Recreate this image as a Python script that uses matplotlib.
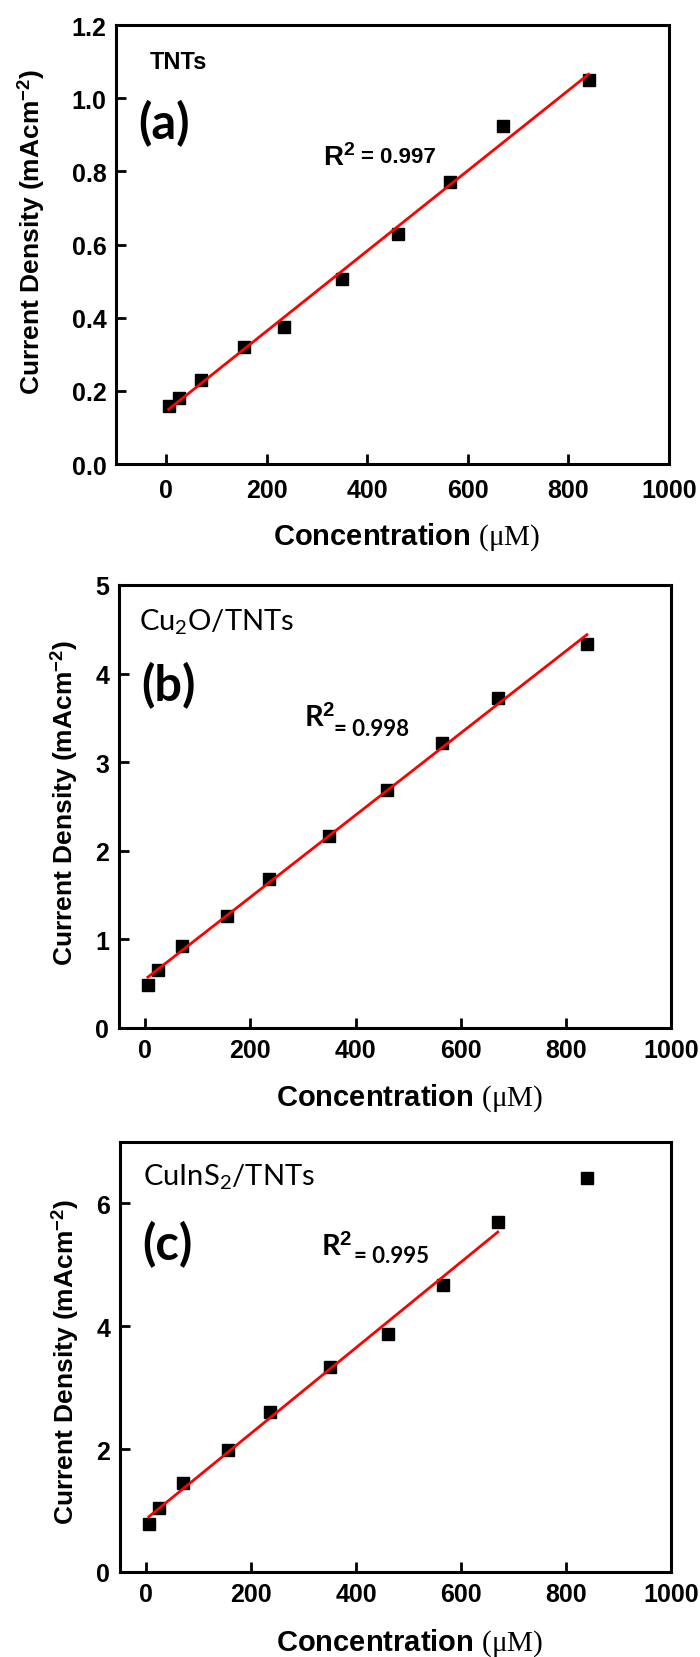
import numpy as np
import matplotlib
matplotlib.use("Agg")
import matplotlib.pyplot as plt

plt.rcParams["font.family"] = ["Liberation Sans", "DejaVu Sans"]
plt.rcParams["mathtext.fontset"] = "custom"
plt.rcParams["mathtext.rm"] = "Lato"
plt.rcParams["mathtext.it"] = "Lato:italic"
plt.rcParams["mathtext.bf"] = "Liberation Sans:bold"
plt.rcParams["mathtext.sf"] = "Liberation Serif"

# data
conc = [5, 25, 70, 155, 235, 350, 460, 565, 670, 840]
j_tnts = [0.16, 0.18, 0.23, 0.32, 0.375, 0.505, 0.63, 0.77, 0.925, 1.05]
j_cu2o = [0.49, 0.65, 0.92, 1.26, 1.68, 2.17, 2.69, 3.22, 3.72, 4.33]
j_cuins2 = [0.78, 1.04, 1.45, 1.98, 2.60, 3.34, 3.88, 4.67, 5.70, 6.41]

r2_labels = ["0.997", "0.998", "0.995"]
sample_names = ["TNTs", r"Cu$_\mathrm{2}$O/TNTs", r"CuInS$_\mathrm{2}$/TNTs"]
panel_tags = ["(a)", "(b)", "(c)"]
n_fit = [10, 10, 9]  # last point of (c) not in the fit

fig = plt.figure(figsize=(7, 16.58), dpi=100)
fig.patch.set_facecolor("white")

rects = [
    [0.1657, 0.7195, 0.7900, 0.2648],
    [0.1700, 0.3794, 0.7886, 0.2672],
    [0.1714, 0.0513, 0.7871, 0.2594],
]
xlims = [(-100, 1000), (-50, 1000), (-50, 1000)]
ylims = [(0, 1.2), (0, 5), (0, 7)]
yticks = [np.arange(0, 1.21, 0.2), np.arange(0, 6, 1), np.arange(0, 7, 2)]
ylab_x = [-0.154, -0.10, -0.10]
ylab_y = [0.53, 0.51, 0.49]
xlab_y = [-0.164, -0.156, -0.163]
xpad = [10, 7, 7]

series = [j_tnts, j_cu2o, j_cuins2]

for i in range(3):
    ax = fig.add_axes(rects[i])
    x = np.array(conc)
    y = np.array(series[i])

    ax.plot(x, y, "s", color="black", markersize=8.8, zorder=2)
    k = n_fit[i]
    slope, icpt = np.polyfit(x[:k], y[:k], 1)
    xf = np.array([x[0], x[k - 1]])
    ax.plot(xf, slope * xf + icpt, color="red", lw=2, zorder=3)

    ax.set_xlim(xlims[i])
    ax.set_ylim(ylims[i])
    ax.set_xticks(range(0, 1001, 200))
    ax.set_yticks(yticks[i])
    if i == 0:
        ax.set_yticklabels(["%.1f" % v for v in yticks[i]])

    for s in ax.spines.values():
        s.set_linewidth(2.2)
    ax.tick_params(direction="in", length=7, width=2, top=False, right=False,
                   labelsize=18)
    ax.tick_params(axis="x", pad=xpad[i])
    ax.tick_params(axis="y", pad=7)
    for lab in ax.get_xticklabels() + ax.get_yticklabels():
        lab.set_fontweight("bold")

    ax.set_xlabel(r"Concentration $\mathsf{(\mu M)}$", fontsize=21,
                  fontweight="bold", va="center")
    ax.xaxis.set_label_coords(0.526, xlab_y[i])
    ax.set_ylabel(r"Current Density (mAcm$^{\mathbf{-2}}$)", fontsize=19,
                  fontweight="bold", va="center")
    ax.yaxis.set_label_coords(ylab_x[i], ylab_y[i])

# panel annotations
axs = fig.axes
axs[0].text(0.061, 0.918, "TNTs", transform=axs[0].transAxes, fontsize=17,
            fontweight="bold", va="center")
axs[1].text(0.036, 0.919, sample_names[1], transform=axs[1].transAxes,
            fontsize=21, family=["Lato", "DejaVu Sans"], va="center")
axs[2].text(0.042, 0.921, sample_names[2], transform=axs[2].transAxes,
            fontsize=21, family=["Lato", "DejaVu Sans"], va="center")

tag_y = [0.777, 0.776, 0.763]
tag_x = [0.040, 0.040, 0.040]
for i in range(3):
    axs[i].text(tag_x[i], tag_y[i], panel_tags[i], transform=axs[i].transAxes,
                fontsize=35, fontweight="bold", family=["Lato", "DejaVu Sans"],
                va="center")

# R^2 labels
axs[0].text(0.374, 0.70, r"R$^\mathbf{2}$", transform=axs[0].transAxes,
            fontsize=20, fontweight="bold", va="center")
axs[0].text(0.443, 0.70, "= " + r2_labels[0], transform=axs[0].transAxes,
            fontsize=16, fontweight="bold", va="center")

axs[1].text(0.335, 0.702, r"R$^\mathbf{2}$", transform=axs[1].transAxes,
            fontsize=21, fontweight="bold", va="center",
            family=["Lato", "DejaVu Sans"])
axs[1].text(0.39, 0.677, "= " + r2_labels[1], transform=axs[1].transAxes,
            fontsize=16, fontweight="bold", va="center",
            family=["Lato", "DejaVu Sans"])

axs[2].text(0.365, 0.758, r"R$^\mathbf{2}$", transform=axs[2].transAxes,
            fontsize=21, fontweight="bold", va="center",
            family=["Lato", "DejaVu Sans"])
axs[2].text(0.425, 0.735, "= " + r2_labels[2], transform=axs[2].transAxes,
            fontsize=16, fontweight="bold", va="center",
            family=["Lato", "DejaVu Sans"])

fig.savefig("out.png", dpi=100)
